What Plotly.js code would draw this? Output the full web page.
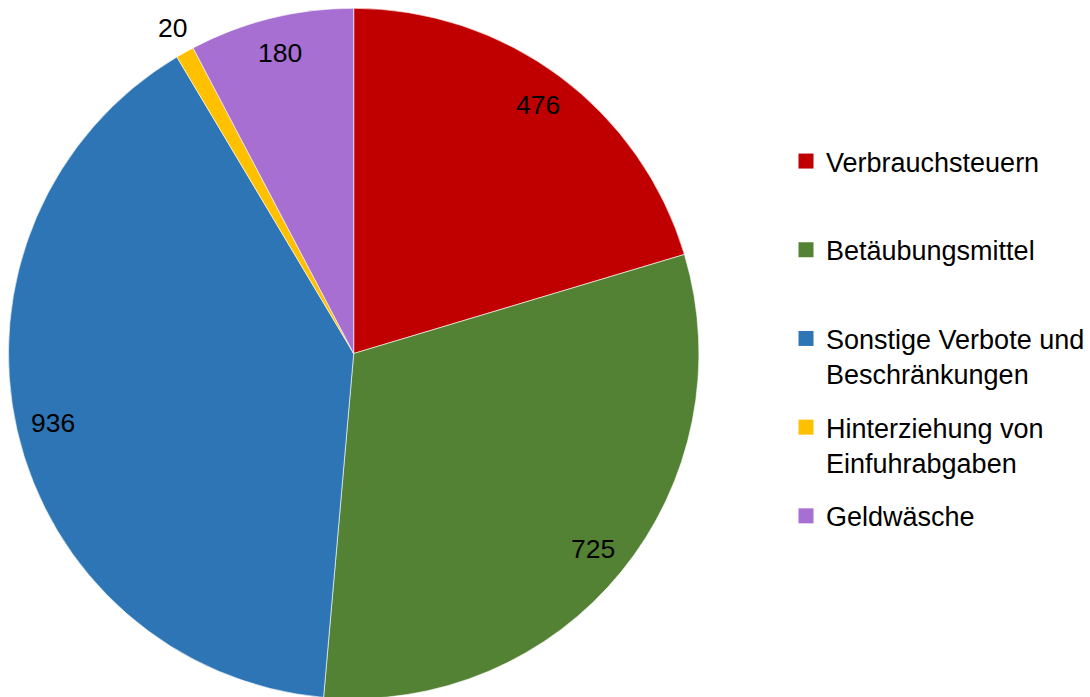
<!DOCTYPE html>
<html><head><meta charset="utf-8">
<script src="https://cdn.plot.ly/plotly-3.0.1.min.js"></script>
<style>html,body{margin:0;padding:0;overflow:hidden;background:#fff}#chart{width:1090px;height:700px}</style>
</head><body><div id="chart"></div>
<script>
const categories = ['Verbrauchsteuern','Betäubungsmittel','Sonstige Verbote und<br>Beschränkungen','Hinterziehung von<br>Einfuhrabgaben','Geldwäsche'];
const values = [476, 725, 936, 20, 180];
const colors = ['#C00000', '#548235', '#2E75B6', '#FFC000', '#A66FD1'];
const labelOutside = [false, false, false, true, false];

const W = 1090, H = 700;
const cx = 355, cy = 353.5, R = 346.5;
const FONT = 'Liberation Sans, Arial, sans-serif';

const traces = [{
  type: 'pie',
  values: values,
  labels: categories,
  marker: {colors: colors, line: {color: '#ffffff', width: 0.6}},
  sort: false,
  direction: 'clockwise',
  rotation: 0,
  textinfo: 'none',
  hoverinfo: 'label+value',
  showlegend: false,
  domain: {x: [(cx - R) / W, (cx + R) / W], y: [0, (2 * R) / H]}
}];

categories.forEach((c, i) => {
  const name = c.indexOf('<br>') >= 0 ? c : c + '<br>&nbsp;';
  traces.push({
    type: 'scatter', mode: 'markers', x: [null], y: [null],
    name: name, legendgroup: 'g' + i, showlegend: true,
    marker: {symbol: 'square', size: 15, color: colors[i]},
    hoverinfo: 'skip'
  });
});

const total = values.reduce((a, b) => a + b, 0);
let cum = 0;
const annotations = values.map((v, i) => {
  const mid = (cum + v / 2) / total * 2 * Math.PI;
  cum += v;
  const r = labelOutside[i] ? 373 : 310;
  const px = cx + r * Math.sin(mid);
  const py = cy - r * Math.cos(mid);
  return {
    xref: 'paper', yref: 'paper', x: px / W, y: 1 - py / H,
    xanchor: 'center', yanchor: 'middle', showarrow: false,
    text: String(v), font: {family: FONT, size: 26.5, color: '#000000'}
  };
});

const layout = {
  width: W, height: H,
  margin: {l: 0, r: 0, t: 0, b: 0},
  paper_bgcolor: '#ffffff', plot_bgcolor: '#ffffff',
  font: {family: FONT, size: 27, color: '#000000'},
  showlegend: true,
  legend: {
    x: 789 / W, xanchor: 'left', y: 1 - 137 / H, yanchor: 'top',
    valign: 'top', tracegroupgap: 15.5, itemsizing: 'trace',
    font: {family: FONT, size: 27, color: '#000000'},
    bgcolor: 'rgba(0,0,0,0)', borderwidth: 0
  },
  xaxis: {visible: false, domain: [0.99, 1]},
  yaxis: {visible: false, domain: [0.99, 1]},
  annotations: annotations
};

Plotly.newPlot('chart', traces, layout, {displayModeBar: false, staticPlot: true});
</script></body></html>
